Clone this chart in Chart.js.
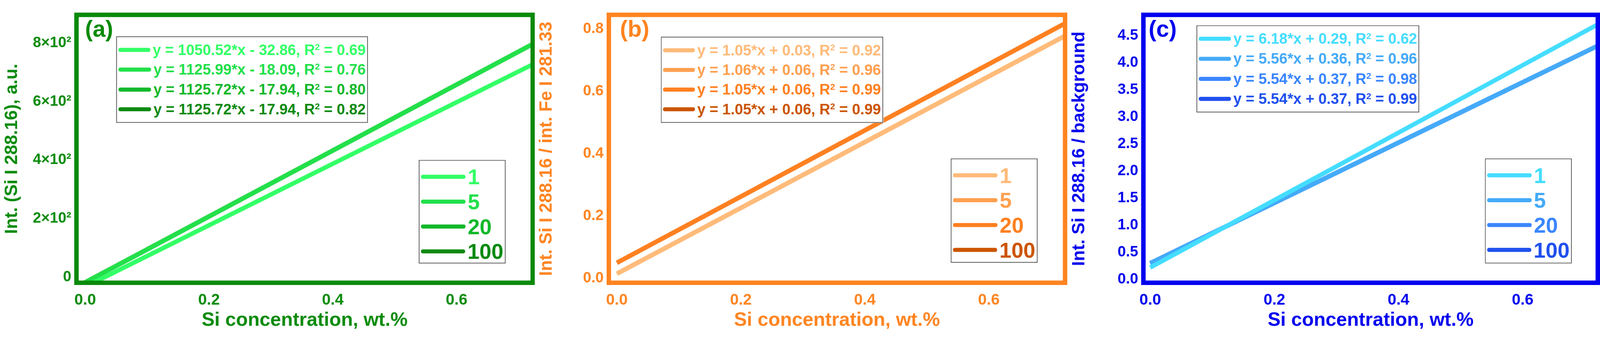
<!DOCTYPE html>
<html><head><meta charset="utf-8">
<script src="https://cdn.jsdelivr.net/npm/chart.js@4/dist/chart.umd.min.js"></script>
<style>
html,body{margin:0;padding:0;background:#fff;overflow:hidden}
#wrap{position:absolute;left:0;top:0;width:4310px;height:899px;transform-origin:0 0;font-family:"Liberation Sans Narrow","Liberation Sans",Arial,sans-serif}
.pan{position:absolute;top:0;height:899px}
.box{position:absolute;background:#fff;border:2px solid #555;box-sizing:border-box;font-weight:bold}
.row{display:flex;align-items:center;white-space:nowrap}
.seg{display:inline-block;height:11px;border-radius:5px;margin-right:6px}
.lab{position:absolute;font-family:"Liberation Sans",Arial,sans-serif;font-weight:bold;font-size:62px}
sup{font-size:60%;vertical-align:0.55em;line-height:0}
</style></head><body><div id="wrap"></div>
<script>
const xEnds = [0, 0.73];
const seriesNames = ['1','5','20','100'];
const aEquations = ['y = 1050.52*x - 32.86, R<sup>2</sup> = 0.69','y = 1125.99*x - 18.09, R<sup>2</sup> = 0.76','y = 1125.72*x - 17.94, R<sup>2</sup> = 0.80','y = 1125.72*x - 17.94, R<sup>2</sup> = 0.82'];
const aValues = [[-32.9, 734], [-18.1, 804], [-17.9, 804], [-17.9, 804]];
const bEquations = ['y = 1.05*x + 0.03, R<sup>2</sup> = 0.92','y = 1.06*x + 0.06, R<sup>2</sup> = 0.96','y = 1.05*x + 0.06, R<sup>2</sup> = 0.99','y = 1.05*x + 0.06, R<sup>2</sup> = 0.99'];
const bValues = [[0.015, 0.785], [0.015, 0.785], [0.05, 0.825], [0.05, 0.825]];
const cEquations = ['y = 6.18*x + 0.29, R<sup>2</sup> = 0.62','y = 5.56*x + 0.36, R<sup>2</sup> = 0.96','y = 5.54*x + 0.37, R<sup>2</sup> = 0.98','y = 5.54*x + 0.37, R<sup>2</sup> = 0.99'];
const cValues = [[0.22, 4.76], [0.30, 4.36], [0.30, 4.36], [0.30, 4.36]];
const xTicks = [0, 0.2, 0.4, 0.6];
const aYTicks = [0, 200, 400, 600, 800];
const bYTicks = [0, 0.2, 0.4, 0.6, 0.8];
const cYTicks = [0, 0.5, 1.0, 1.5, 2.0, 2.5, 3.0, 3.5, 4.0, 4.5];

const wrap=document.getElementById('wrap');
const s=Math.min(window.innerWidth/4310, window.innerHeight/899);
if (s>0 && Math.abs(s-1)>0.005) wrap.style.transform='scale('+s+')';

const panels = [
 {left:0,width:1440,yw:206,pr:5,xr:[-0.014,0.723],yr:[-19,896],yt:aYTicks,fmt:v=>v===0?'0':(v/100)+'×10²',
  axis:'#0a8a0a',cols:['#33ff66','#22e04a','#12b82a','#0d8a12'],vals:aValues,eq:aEquations,
  ytitle:'Int. (Si I 288.16), a.u.',tag:'(a)',tagX:229,b1:[313,98,678,233],b2:[1128,431,234,279],eqSize:40},
 {left:1440,width:1435,yw:200,pr:6,xr:[-0.013,0.723],yr:[-0.014,0.845],yt:bYTicks,fmt:v=>v.toFixed(1),
  axis:'#ff8420',cols:['#ffbb7a','#ffa050','#ff8020','#cc5500'],vals:bValues,eq:bEquations,
  ytitle:'Int. Si I 288.16 / int. Fe I 281.33',tag:'(b)',tagX:1670,b1:[1780,99,599,232],b2:[2561,427,234,281],eqSize:40},
 {left:2875,width:1435,yw:205,pr:6,xr:[-0.011,0.721],yr:[-0.06,4.88],yt:cYTicks,fmt:v=>v.toFixed(1),
  axis:'#0000ee',cols:['#44ddff','#44aaf8','#3a86ff','#2050ee'],vals:cValues,eq:cEquations,
  ytitle:'Int. Si I 288.16 / background',tag:'(c)',tagX:3094,b1:[3223,68,600,235],b2:[4000,427,234,283],eqSize:40}
];

const frame = {id:'frame',afterDraw(ch){const a=ch.chartArea,c=ch.ctx;c.save();c.strokeStyle=ch.options.plugins.frame.color;c.lineWidth=12;
  c.strokeRect(a.left,a.top,a.right-a.left,a.bottom-a.top);c.restore();}};

panels.forEach(p=>{
 const d=document.createElement('div');d.className='pan';d.style.left=p.left+'px';d.style.width=p.width+'px';
 const cv=document.createElement('canvas');cv.width=p.width;cv.height=899;cv.style.width=p.width+'px';cv.style.height='899px';
 d.appendChild(cv);wrap.appendChild(d);
 new Chart(cv,{type:'line',
  data:{datasets:p.vals.map((v,i)=>({label:seriesNames[i],data:xEnds.map((x,j)=>({x,y:v[j]})),borderColor:p.cols[i],borderWidth:12,pointRadius:0,tension:0}))},
  options:{responsive:false,animation:false,devicePixelRatio:1,
   layout:{padding:{left:0,right:p.pr,top:40,bottom:0}},
   plugins:{legend:{display:false},tooltip:{enabled:false},frame:{color:p.axis}},
   scales:{
    x:{type:'linear',min:p.xr[0],max:p.xr[1],afterBuildTicks:ax=>{ax.ticks=xTicks.map(v=>({value:v}));},
     afterFit:ax=>{ax.height=137;},grid:{display:false,drawTicks:false},border:{display:false},
     ticks:{color:p.axis,padding:22,maxRotation:0,font:{family:'Liberation Sans Narrow, Liberation Sans',weight:'bold',size:42},callback:v=>Number(v).toFixed(1)},
     title:{display:true,text:'Si concentration, wt.%',color:p.axis,font:{family:'Liberation Sans Narrow, Liberation Sans',weight:'bold',size:52},padding:{top:4}}},
    y:{type:'linear',min:p.yr[0],max:p.yr[1],afterBuildTicks:ax=>{ax.ticks=p.yt.map(v=>({value:v}));},
     afterFit:ax=>{ax.width=p.yw;},grid:{display:false,drawTicks:false},border:{display:false},
     ticks:{color:p.axis,padding:14,font:{family:'Liberation Sans Narrow, Liberation Sans',weight:'bold',size:40},callback:v=>p.fmt(v)},
     title:{display:true,text:p.ytitle,color:p.axis,font:{family:'Liberation Sans',weight:'bold',size:48},padding:{bottom:4}}}
   }},
  plugins:[frame]});
 const t=document.createElement('div');t.className='lab';t.style.left=p.tagX+'px';t.style.top='42px';t.style.color=p.axis;t.textContent=p.tag;wrap.appendChild(t);
 const b1=document.createElement('div');b1.className='box';
 Object.assign(b1.style,{left:p.b1[0]+'px',top:p.b1[1]+'px',width:p.b1[2]+'px',height:p.b1[3]+'px',padding:'8px 4px',display:'flex',flexDirection:'column',justifyContent:'space-around'});
 p.eq.forEach((e,i)=>{b1.innerHTML+=`<div class="row" style="color:${p.cols[i]};font-size:${p.eqSize}px"><span class="seg" style="width:90px;background:${p.cols[i]}"></span><span>${e}</span></div>`;});
 wrap.appendChild(b1);
 const b2=document.createElement('div');b2.className='box';
 Object.assign(b2.style,{left:p.b2[0]+'px',top:p.b2[1]+'px',width:p.b2[2]+'px',height:p.b2[3]+'px',padding:'10px 4px',display:'flex',flexDirection:'column',justifyContent:'space-around'});
 seriesNames.forEach((n,i)=>{b2.innerHTML+=`<div class="row" style="color:${p.cols[i]};font-size:58px"><span class="seg" style="width:120px;background:${p.cols[i]}"></span><span>${n}</span></div>`;});
 wrap.appendChild(b2);
});
</script>
</body></html>
